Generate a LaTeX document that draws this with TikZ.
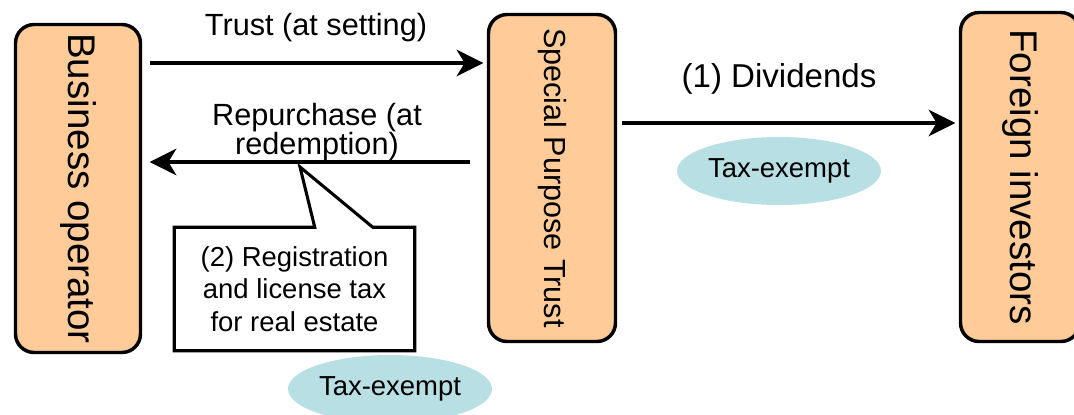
\documentclass[tikz,border=0pt]{standalone}
\usepackage{fontspec}
\setmainfont{Liberation Sans}
\usetikzlibrary{arrows.meta,calc,shapes.geometric}

\begin{document}
\begin{tikzpicture}
		[x=0.75pt,y=-0.75pt,line cap=butt,
		%Styles
		party/.style={draw,line width=2.6pt,rounded corners=14pt,fill=partyfill,inner sep=0pt},
		flow/.style={line width=2.4pt,-{Stealth[length=20pt,width=20pt,inset=6pt]}},
		flow text/.style={inner sep=0pt,align=center,font=\fontsize{23}{21.5}\selectfont},
		note/.style={inner sep=0pt,align=center,font=\fontsize{20.6}{24.5}\selectfont},
		tax/.style={ellipse,fill=taxfill,inner sep=0pt,minimum width=153pt,minimum height=51pt,font=\fontsize{20.6}{24}\selectfont}
		]
		
		%Colors
		\definecolor{partyfill}{RGB}{255,204,153}	%boxes
		\definecolor{taxfill}{RGB}{184,223,227}	%tax-exempt ellipses
		
		\useasboundingbox (0,0) rectangle (1074,414);
		\clip (0,0) rectangle (1074,414);
		
		%The graphic
		\node[party,minimum width=93.75pt,minimum height=246pt,font=\fontsize{28.9}{30}\selectfont] (operator) at (78,188.5) {\rotatebox{-90}{Business operator}};
		\node[party,minimum width=95.25pt,minimum height=245.25pt,font=\fontsize{22.9}{24}\selectfont] (trust) at (552,178) {\rotatebox{-90}{Special Purpose Trust}};
		\node[party,minimum width=89.25pt,minimum height=246.75pt,font=\fontsize{28.9}{30}\selectfont] (investors) at (1020,177) {\rotatebox{-90}{Foreign investors}};
		
		\draw[flow] ($(operator.east |- 0,63)+(7.5,0)$) -- ($(trust.west |- 0,63)+(-3.5,0)$);
		\draw[flow] ($(trust.west |- 0,162)+(-16.5,0)$) -- ($(operator.east |- 0,162)+(7.5,0)$);
		\draw[flow] ($(trust.east |- 0,123)+(4.5,0)$) -- ($(investors.west |- 0,123)+(-3.5,0)$);
		
		\node[flow text] (setting lbl) at (316,28) {Trust (at setting)};
		\node[flow text] (redemption lbl) at (317,132) {Repurchase (at\\redemption)};
		\node[flow text,font=\fontsize{24.8}{28}\selectfont] (dividends lbl) at (779,79) {(1) Dividends};
		
		\node[tax] (tax dividends) at (779,171) {Tax-exempt};
		\node[tax] (tax registration) at (390,389) {Tax-exempt};
		
		\node[note,minimum width=180pt,minimum height=92.25pt] (regtax) at (294.5,289) {(2) Registration\\and license tax\\for real estate};
		\coordinate (regtax tip) at (300,167);
		\draw[line width=2.3pt,line join=miter] (regtax.north west) -- ($(regtax.north west)+(140.5,0)$) -- (regtax tip) -- ($(regtax.north west)+(198.5,0)$) -- (regtax.north east) -- (regtax.south east) -- (regtax.south west) -- cycle;
	\end{tikzpicture}
\end{document}
